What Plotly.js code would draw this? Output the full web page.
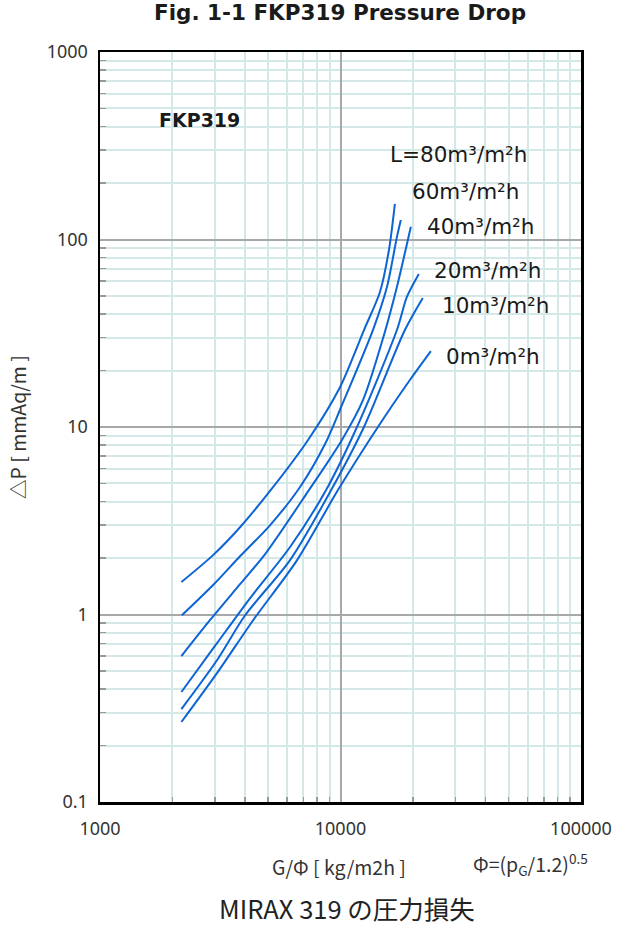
<!DOCTYPE html>
<html>
<head>
<meta charset="utf-8">
<script src="https://cdn.plot.ly/plotly-3.0.1.min.js"></script>
<style>
html,body{margin:0;padding:0;background:#fff;}
#chart{width:620px;height:926px;}
</style>
</head>
<body>
<div id="chart"></div>
<script>
// ---- data ----
const seriesNames = ["L=80m³/m²h", "60m³/m²h", "40m³/m²h", "20m³/m²h", "10m³/m²h", "0m³/m²h"];

const x80 = [2180, 2960, 3830, 5250, 7330, 9950, 12520, 14590, 15900, 16830];
const y80 = [1.49, 2.08, 2.93, 4.79, 8.53, 16.3, 32.9, 52.5, 87.9, 155];

const x60 = [2190, 2960, 3830, 5100, 6790, 8710, 10140, 13640, 15600, 17160, 17820];
const y60 = [0.99, 1.44, 2.05, 3.00, 4.79, 8.32, 13.1, 32.9, 55.8, 103, 127];

const x40 = [2180, 2870, 3830, 4860, 7260, 10140, 12400, 15160, 17160, 19610];
const y40 = [0.60, 0.935, 1.455, 2.10, 4.45, 8.53, 13.9, 30.9, 55.8, 117];

const x20 = [2180, 3070, 4210, 6170, 8700, 11710, 17160, 18880, 21170];
const y20 = [0.386, 0.705, 1.224, 2.29, 4.60, 10.0, 32.9, 49.4, 65.5];

const x10 = [2180, 3070, 4020, 6170, 9050, 12520, 18520, 21990];
const y10 = [0.313, 0.572, 0.994, 1.95, 4.50, 10.0, 32.9, 48.8];

const x0 = [2180, 3070, 4340, 6600, 9760, 14310, 19430, 23750];
const y0 = [0.267, 0.488, 0.935, 1.95, 4.61, 10.0, 17.8, 25.4];

const xTickVals = [1000, 10000, 100000];
const xTickText = ["1000", "10000", "100000"];
const yTickVals = [0.1, 1, 10, 100, 1000];
const yTickText = ["0.1", "1", "10", "100", "1000"];
const xMinor = [2000,3000,4000,5000,6000,7000,8000,9000,20000,30000,40000,50000,60000,70000,80000,90000];
const yMinor = [0.2,0.3,0.4,0.5,0.6,0.7,0.8,0.9,2,3,4,5,6,7,8,9,20,30,40,50,60,70,80,90,200,300,400,500,600,700,800,900];

// ---- figure ----
const L = 100, R = 39, T = 52, B = 124, W = 620, H = 926;
const pw = W - L - R, ph = H - T - B;
const px = v => (v - L) / pw;
const py = v => (H - B - v) / ph;

const lineColor = '#0d64d4';
const xs = [x80, x60, x40, x20, x10, x0];
const ys = [y80, y60, y40, y20, y10, y0];
const traces = xs.map((xx, i) => ({
  type: 'scatter', mode: 'lines', x: xx, y: ys[i], name: seriesNames[i],
  line: {color: lineColor, width: 2, shape: 'spline', smoothing: 0.8},
  hoverinfo: 'skip', showlegend: false
}));

const geo = '"DejaVu Sans", sans-serif';
const labelFont = {family: geo, size: 21.5, color: '#1a1a1a'};
const labelPos = [[388,154],[410,191],[425,226],[432,270],[440,305],[444,357]];

const annotations = seriesNames.map((t, i) => ({
  xref: 'paper', yref: 'paper', x: px(labelPos[i][0]), y: py(labelPos[i][1]),
  xanchor: 'left', yanchor: 'middle', text: t, showarrow: false, font: labelFont
}));

const cjk = '"Noto Sans CJK JP", "Noto Sans", sans-serif';
annotations.push(
  {xref:'paper', yref:'paper', x: px(340), y: py(13), xanchor:'center', yanchor:'middle',
   text:'<b>Fig. 1-1 FKP319 Pressure Drop</b>', showarrow:false,
   font:{family:geo, size:21.5, color:'#1a1a1a'}},
  {xref:'paper', yref:'paper', x: px(157), y: py(120), xanchor:'left', yanchor:'middle',
   text:'<b>FKP319</b>', showarrow:false,
   font:{family:geo, size:19, color:'#1a1a1a'}},
  {xref:'paper', yref:'paper', x: px(17), y: py(427), xanchor:'center', yanchor:'middle',
   text:'△P [ mmAq/m ]', textangle:-90, showarrow:false,
   font:{family:cjk, size:19.5, color:'#333'}},
  {xref:'paper', yref:'paper', x: px(339), y: py(866), xanchor:'center', yanchor:'middle',
   text:'G/Φ [ kg/m2h ]', showarrow:false,
   font:{family:cjk, size:19.5, color:'#333'}},
  {xref:'paper', yref:'paper', x: px(530), y: py(864), xanchor:'center', yanchor:'middle',
   text:'Φ=(p<sub>G</sub>/1.2)<sup>0.5</sup>', showarrow:false,
   font:{family:cjk, size:19.5, color:'#333'}},
  {xref:'paper', yref:'paper', x: px(347), y: py(907), xanchor:'center', yanchor:'middle',
   text:'MIRAX 319 の圧力損失', showarrow:false, borderpad:0,
   font:{family:cjk, size:25.5, color:'#222'}}
);

const axisCommon = {
  type: 'log', showline: true, linecolor: '#000', linewidth: 2.5, mirror: true,
  showgrid: true, gridcolor: '#a8a8a8', gridwidth: 2, zeroline: false,
  ticks: '', tickmode: 'array',
  tickfont: {family: '"Noto Sans", sans-serif', size: 18, color: '#333'}
};

const layout = {
  width: W, height: H,
  margin: {l: L, r: R, t: T, b: B, pad: 0},
  paper_bgcolor: '#fff', plot_bgcolor: '#fff',
  showlegend: false,
  xaxis: Object.assign({}, axisCommon, {
    range: [3, 5], tickvals: xTickVals, ticktext: xTickText, ticklabelstandoff: 9,
    minor: {tickmode: 'array', tickvals: xMinor, ticks: 'inside', ticklen: 5, tickwidth: 1.5,
            tickcolor: '#999', showgrid: true, gridcolor: '#d4e8e8', gridwidth: 2}
  }),
  yaxis: Object.assign({}, axisCommon, {
    range: [-1, 3], tickvals: yTickVals, ticktext: yTickText, ticklabelstandoff: 6,
    minor: {tickmode: 'array', tickvals: yMinor, ticks: 'inside', ticklen: 6, tickwidth: 1.5,
            tickcolor: '#999', showgrid: true, gridcolor: '#d4e8e8', gridwidth: 2}
  }),
  annotations: annotations
};

Plotly.newPlot('chart', traces, layout, {staticPlot: true, displayModeBar: false});
</script>
</body>
</html>
